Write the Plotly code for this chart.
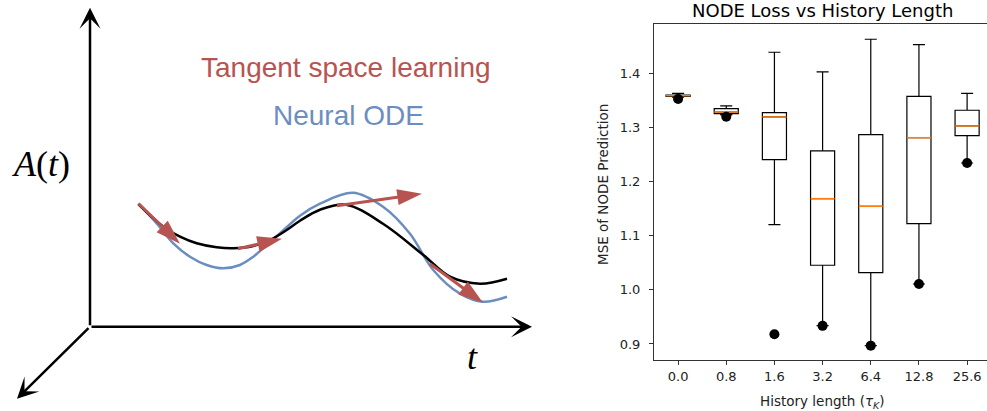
import plotly.graph_objects as go

# ---------------- Right panel: NODE loss vs history length ----------------
history_labels = ['0.0', '0.8', '1.6', '3.2', '6.4', '12.8', '25.6']
positions = [1, 2, 3, 4, 5, 6, 7]
q1 = [1.3575, 1.3254, 1.2404, 1.0454, 1.0317, 1.1222, 1.2847]
median = [1.3586, 1.3285, 1.3193, 1.1684, 1.1543, 1.2810, 1.3027]
q3 = [1.3597, 1.3346, 1.3272, 1.2565, 1.2866, 1.3575, 1.3317]
lower_whisker = [1.3560, 1.3230, 1.1204, 0.9338, 0.8969, 1.0108, 1.2343]
upper_whisker = [1.3630, 1.3396, 1.4388, 1.4024, 1.4628, 1.4528, 1.3630]
outlier_pos = [1, 2, 3, 4, 5, 6, 7]
outlier_val = [1.3525, 1.3198, 0.9179, 0.9335, 0.8969, 1.0108, 1.2343]
y_ticks = [0.9, 1.0, 1.1, 1.2, 1.3, 1.4]

# ---------------- Left panel: schematic (t, A(t)) ----------------
true_t = [4.83, 7.33, 9.0, 10.67, 12.67, 14.33, 16.33, 18.0, 19.67, 21.0, 23.0, 25.6, 29.3, 33.3, 36.0, 39.0, 41.7]
true_A = [12.27, 10.0, 9.0, 8.34, 7.94, 7.84, 8.07, 8.67, 9.67, 10.6, 11.7, 12.2, 10.3, 7.2, 5.0, 4.3, 4.8]
node_t = [4.9, 6.67, 8.33, 10.0, 11.67, 13.33, 15.0, 16.33, 17.67, 19.0, 21.0, 23.0, 26.3, 29.3, 32.0, 34.3, 37.0, 39.3, 41.7]
node_A = [12.2, 10.34, 8.34, 7.0, 6.17, 5.84, 6.17, 7.0, 8.17, 9.34, 11.1, 12.3, 13.4, 12.0, 9.3, 5.7, 3.3, 2.5, 3.0]
tangent_start_t = [4.85, 14.8, 24.7, 34.0]
tangent_start_A = [12.3, 7.8, 12.1, 6.3]
tangent_end_t = [9.0, 19.2, 33.2, 39.3]
tangent_end_A = [8.3, 8.8, 13.3, 2.4]
axis_end_t = [0.0, 44.2, -7.3]
axis_end_A = [31.9, 0.0, -7.2]

RED = '#b85450'
BLUE = '#6c8ebf'
TXT = '#222222'

fig = go.Figure()

# Box plot (precomputed statistics)
fig.add_trace(go.Box(
    x=positions, q1=q1, median=median, q3=q3,
    lowerfence=lower_whisker, upperfence=upper_whisker,
    width=0.5, whiskerwidth=0.5,
    line=dict(color='black', width=1.2),
    fillcolor='rgba(255,255,255,0)',
    boxpoints=False, xaxis='x', yaxis='y', hoverinfo='skip'))

# Orange median lines
med_x, med_y = [], []
for p, m in zip(positions, median):
    med_x += [p - 0.25, p + 0.25, None]
    med_y += [m, m, None]
fig.add_trace(go.Scatter(x=med_x, y=med_y, mode='lines',
                         line=dict(color='#ff7f0e', width=1.5),
                         xaxis='x', yaxis='y', hoverinfo='skip'))

# Outlier points
fig.add_trace(go.Scatter(x=outlier_pos, y=outlier_val, mode='markers',
                         marker=dict(color='black', size=10),
                         xaxis='x', yaxis='y', hoverinfo='skip'))

# Schematic curves
fig.add_trace(go.Scatter(x=node_t, y=node_A, mode='lines',
                         line=dict(color=BLUE, width=2.5, shape='spline', smoothing=1.0),
                         xaxis='x2', yaxis='y2', hoverinfo='skip'))
fig.add_trace(go.Scatter(x=true_t, y=true_A, mode='lines',
                         line=dict(color='black', width=2.5, shape='spline', smoothing=1.0),
                         xaxis='x2', yaxis='y2', hoverinfo='skip'))

# Tangent arrows
for t0, a0, t1, a1 in zip(tangent_start_t, tangent_start_A, tangent_end_t, tangent_end_A):
    fig.add_trace(go.Scatter(x=[t0, t1], y=[a0, a1], mode='lines+markers',
                             opacity=1,
                             line=dict(color=RED, width=3),
                             marker=dict(symbol='arrow', size=[0, 26], color=RED,
                                         opacity=1, angleref='previous',
                                         line=dict(width=0, color=RED)),
                             xaxis='x2', yaxis='y2', hoverinfo='skip'))

annotations = []
# Schematic coordinate axes (arrows from origin)
for te, ae in zip(axis_end_t, axis_end_A):
    annotations.append(dict(x=te, y=ae, ax=0, ay=0, xref='x2', yref='y2',
                            axref='x2', ayref='y2', text='', showarrow=True,
                            arrowhead=3, arrowsize=1.4, arrowwidth=2.5,
                            arrowcolor='black'))

annotations += [
    dict(x=25.55, y=25.97, xref='x2', yref='y2', text='Tangent space learning',
         showarrow=False, font=dict(family='Liberation Sans', size=28, color=RED)),
    dict(x=25.85, y=21.17, xref='x2', yref='y2', text='Neural ODE',
         showarrow=False, font=dict(family='Liberation Sans', size=28, color=BLUE)),
    dict(x=-4.9, y=16.3, xref='x2', yref='y2', text='<i>A</i>(<i>t</i>)',
         showarrow=False, font=dict(family='Liberation Serif', size=36, color='black')),
    dict(x=38.2, y=-3.0, xref='x2', yref='y2', text='<i>t</i>',
         showarrow=False, font=dict(family='Liberation Serif', size=36, color='black')),
    # right panel title & axis titles
    dict(x=822 / 987, y=(411 - 11) / 411, xref='paper', yref='paper',
         text='NODE Loss vs History Length', showarrow=False,
         xanchor='center', yanchor='middle',
         font=dict(family='DejaVu Sans', size=18, color='black')),
    dict(x=603 / 987, y=(411 - 185) / 411, xref='paper', yref='paper',
         text='MSE of NODE Prediction', showarrow=False, textangle=-90,
         xanchor='center', yanchor='middle',
         font=dict(family='DejaVu Sans', size=13.5, color=TXT)),
    dict(x=822 / 987, y=(411 - 402) / 411, xref='paper', yref='paper',
         text='History length (<i>τ</i><sub><i>K</i></sub>)', showarrow=False,
         xanchor='center', yanchor='middle',
         font=dict(family='DejaVu Sans', size=13.5, color=TXT)),
]

fig.update_layout(
    width=987, height=411,
    margin=dict(l=0, r=0, t=0, b=0),
    paper_bgcolor='white', plot_bgcolor='white',
    showlegend=False,
    annotations=annotations,
    xaxis=dict(domain=[654 / 987, 1.0], range=[0.5, 7.413], anchor='y',
               tickmode='array', tickvals=positions, ticktext=history_labels,
               ticks='outside', ticklen=4, tickwidth=1, tickcolor='#333',
               showline=True, linecolor='#333', linewidth=1, mirror=True,
               showgrid=False, zeroline=False,
               tickfont=dict(family='DejaVu Sans', size=13, color=TXT)),
    yaxis=dict(domain=[51 / 411, 387 / 411], range=[0.8704, 1.491], anchor='x',
               tickmode='array', tickvals=y_ticks,
               ticktext=['%.1f' % v for v in y_ticks],
               ticks='outside', ticklen=4, tickwidth=1, tickcolor='#333',
               ticklabelstandoff=6,
               showline=True, linecolor='#333', linewidth=1,
               showgrid=False, zeroline=False,
               tickfont=dict(family='DejaVu Sans', size=13, color=TXT)),
    xaxis2=dict(domain=[0, 540 / 987], range=[-9, 45], anchor='y2', visible=False),
    yaxis2=dict(domain=[0, 1], range=[-8.43, 32.67], anchor='x2', visible=False),
)

fig.write_html('out.html')
